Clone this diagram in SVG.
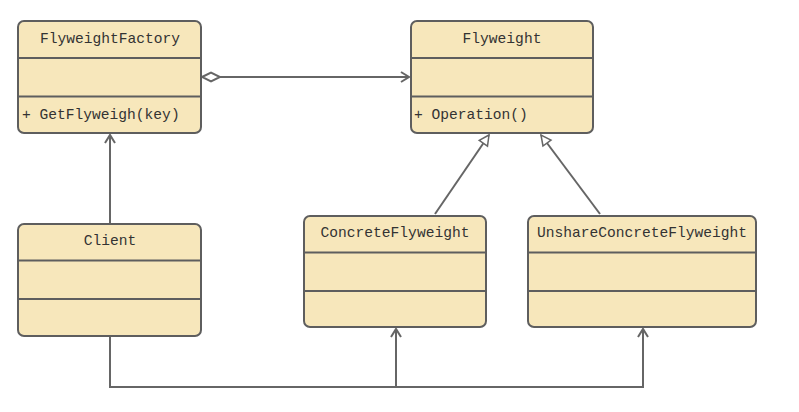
<svg xmlns="http://www.w3.org/2000/svg" width="799" height="412" viewBox="0 0 799 412">
<style>
.box{fill:#f7e7bb;stroke:#5e5e5e;stroke-width:2}
.div{stroke:#5e5e5e;stroke-width:2}
.t{font-family:"Liberation Mono","DejaVu Sans Mono",monospace;font-size:14.6px;fill:#333;dominant-baseline:central}
.c{text-anchor:middle}
.ln{fill:none;stroke:#666;stroke-width:2}
</style>
<defs>
<marker id="open" markerWidth="12" markerHeight="12" refX="10" refY="6" orient="auto" markerUnits="userSpaceOnUse">
<path d="M2,1 L10,6 L2,11" fill="none" stroke="#666" stroke-width="2"/>
</marker>
<marker id="tri" markerWidth="14" markerHeight="14" refX="12" refY="7" orient="auto" markerUnits="userSpaceOnUse">
<path d="M2,2 L12,7 L2,12 Z" fill="#fff" stroke="#666" stroke-width="1.5"/>
</marker>
<marker id="dia" markerWidth="22" markerHeight="12" refX="1" refY="6" orient="auto" markerUnits="userSpaceOnUse">
<path d="M1,6 L10,1.5 L19,6 L10,10.5 Z" fill="#fff" stroke="#666" stroke-width="2"/>
</marker>
</defs>
<g id="connectors">
<line class="ln" x1="202" y1="77" x2="409" y2="77" marker-start="url(#dia)" marker-end="url(#open)"/>
<line class="ln" x1="110" y1="224" x2="110" y2="135" marker-end="url(#open)"/>
<line class="ln" x1="435" y1="214" x2="489" y2="135" marker-end="url(#tri)"/>
<line class="ln" x1="600" y1="214" x2="541" y2="135" marker-end="url(#tri)"/>
<polyline class="ln" points="110,337 110,387 643,387 643,329" marker-end="url(#open)"/>
<line class="ln" x1="396" y1="387" x2="396" y2="329" marker-end="url(#open)"/>
</g>
<g id="FlyweightFactory">
<rect class="box" x="18" y="21" width="183" height="112" rx="6"/>
<line class="div" x1="18" y1="58" x2="201" y2="58"/>
<line class="div" x1="18" y1="96.5" x2="201" y2="96.5"/>
<text class="t c" x="110" y="39">FlyweightFactory</text>
<text class="t" x="22" y="115">+ GetFlyweigh(key)</text>
</g>
<g id="Flyweight">
<rect class="box" x="411" y="21" width="182" height="112" rx="6"/>
<line class="div" x1="411" y1="58" x2="593" y2="58"/>
<line class="div" x1="411" y1="96.5" x2="593" y2="96.5"/>
<text class="t c" x="502" y="39">Flyweight</text>
<text class="t" x="414" y="115">+ Operation()</text>
</g>
<g id="Client">
<rect class="box" x="18" y="224" width="183" height="112" rx="6"/>
<line class="div" x1="18" y1="260.5" x2="201" y2="260.5"/>
<line class="div" x1="18" y1="299" x2="201" y2="299"/>
<text class="t c" x="110" y="241">Client</text>
</g>
<g id="ConcreteFlyweight">
<rect class="box" x="304" y="216" width="182" height="111" rx="6"/>
<line class="div" x1="304" y1="252.5" x2="486" y2="252.5"/>
<line class="div" x1="304" y1="291" x2="486" y2="291"/>
<text class="t c" x="395" y="233">ConcreteFlyweight</text>
</g>
<g id="UnshareConcreteFlyweight">
<rect class="box" x="528" y="216" width="228" height="111" rx="6"/>
<line class="div" x1="528" y1="252.5" x2="756" y2="252.5"/>
<line class="div" x1="528" y1="291" x2="756" y2="291"/>
<text class="t c" x="642" y="233">UnshareConcreteFlyweight</text>
</g>
</svg>
